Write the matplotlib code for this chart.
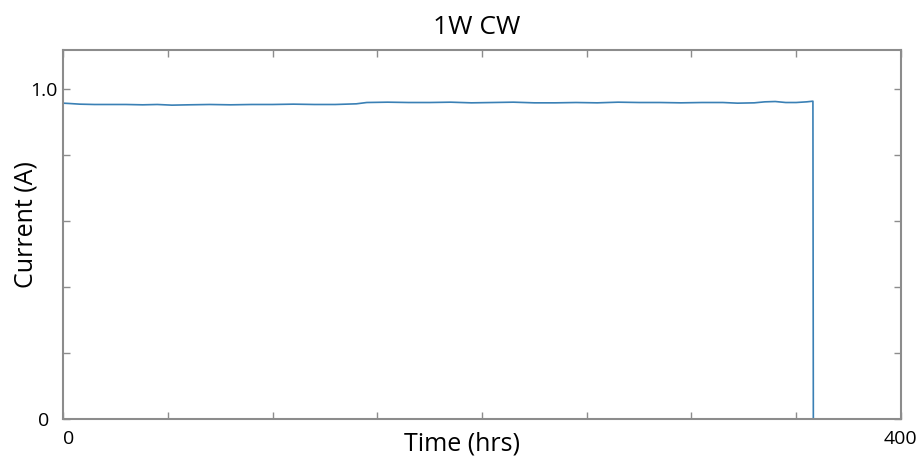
import numpy as np
import matplotlib.pyplot as plt

# current vs time
time_hrs = [0, 3, 8, 15, 22, 30, 38, 45, 52, 60, 70, 80, 90, 100, 110, 120, 130,
            140, 145, 155, 165, 175, 185, 195, 205, 215, 225, 235, 245, 255, 265,
            275, 285, 295, 305, 315, 322, 330, 335, 340, 345, 350, 355, 358, 358.2]
current_a = [0.957, 0.956, 0.954, 0.953, 0.953, 0.953, 0.952, 0.953, 0.951, 0.952,
             0.953, 0.952, 0.953, 0.953, 0.954, 0.953, 0.953, 0.955, 0.959, 0.960,
             0.959, 0.959, 0.960, 0.958, 0.959, 0.960, 0.958, 0.958, 0.959, 0.958,
             0.960, 0.959, 0.959, 0.958, 0.959, 0.959, 0.957, 0.958, 0.961, 0.962,
             0.959, 0.959, 0.961, 0.963, 0.0]

x_ticks = [0, 50, 100, 150, 200, 250, 300, 350, 400]
x_labels = ['0', '', '', '', '', '', '', '', '400']
y_ticks = [0, 0.2, 0.4, 0.6, 0.8, 1.0]
y_labels = ['0', '', '', '', '', '1.0']

plt.rcParams['font.family'] = ['Open Sans', 'DejaVu Sans']

fig = plt.figure(figsize=(9.19, 4.59), dpi=100)
ax = fig.add_axes([0.0686, 0.0871, 0.9117, 0.8039])

ax.plot(time_hrs, current_a, color='#3a80b5', lw=1.2)

ax.set_xlim(0, 400)
ax.set_ylim(0, 1.118)
ax.set_xticks(x_ticks)
ax.set_xticklabels(x_labels)
ax.get_xticklabels()[0].set_ha('left')
ax.set_yticks(y_ticks)
ax.set_yticklabels(y_labels, ha='center')

for s in ax.spines.values():
    s.set_color('#8c8c8c')
    s.set_linewidth(1.5)
ax.tick_params(direction='in', length=5, width=1, color='#8c8c8c',
               top=True, right=True, labelsize=14, labelcolor='black')
ax.tick_params(axis='x', pad=8)
ax.tick_params(axis='y', pad=14)

ax.text(0.476, -0.068, 'Time (hrs)', transform=ax.transAxes, ha='center',
        va='center', fontsize=18)
ax.text(-0.044, 0.526, 'Current (A)', transform=ax.transAxes, ha='center',
        va='center', rotation=90, fontsize=18)
fig.text(0.519, 0.941, '1W CW', ha='center', va='center', fontsize=19)

fig.savefig('out.png', dpi=100)
